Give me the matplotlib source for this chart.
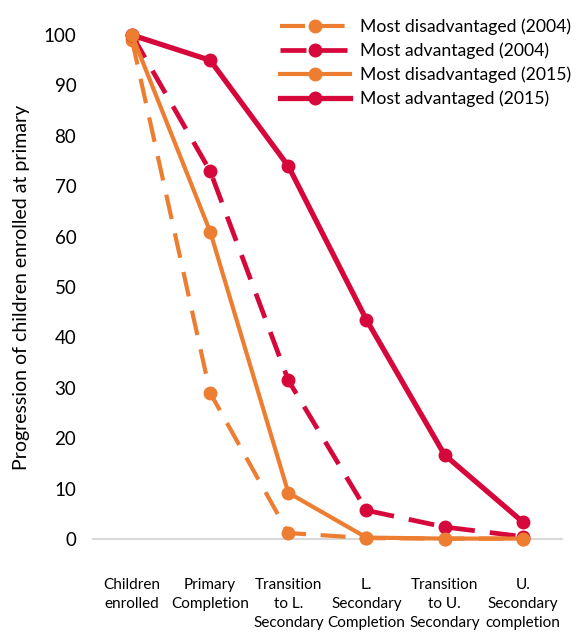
import matplotlib
matplotlib.use("Agg")
import matplotlib.pyplot as plt

plt.rcParams['font.family'] = ['Lato', 'DejaVu Sans']

categories = ["Children\nenrolled", "Primary\nCompletion", "Transition\nto L.\nSecondary",
              "L.\nSecondary\nCompletion", "Transition\nto U.\nSecondary", "U.\nSecondary\ncompletion"]

disadv_2004 = [99, 29, 1.2, 0.2, 0.1, 0.1]
adv_2004 = [100, 73, 31.5, 5.7, 2.4, 0.5]
disadv_2015 = [100, 61, 9.2, 0.3, 0.1, 0.1]
adv_2015 = [100, 95, 74, 43.5, 16.7, 3.4]

orange = '#ED7D31'
red = '#D6083B'

fig = plt.figure(figsize=(5.81, 6.32), dpi=100)
ax = fig.add_axes([0.160, 0.147, 0.807, 0.7975])

x = range(len(categories))
ax.plot(x, disadv_2004, color=orange, lw=3, ls=(0, (6, 3.5)), marker='o', ms=9,
        label='Most disadvantaged (2004)', clip_on=False, zorder=3)
ax.plot(x, adv_2004, color=red, lw=3.4, ls=(0, (5.5, 3.2)), marker='o', ms=9,
        label='Most advantaged (2004)', clip_on=False, zorder=3)
ax.plot(x, disadv_2015, color=orange, lw=3, marker='o', ms=9,
        label='Most disadvantaged (2015)', clip_on=False, zorder=4)
ax.plot(x, adv_2015, color=red, lw=3.8, marker='o', ms=9,
        label='Most advantaged (2015)', clip_on=False, zorder=3)

ax.set_xlim(-0.5, 5.5)
ax.set_ylim(0, 100)
ax.set_yticks(range(0, 101, 10))
ax.set_xticks(list(x))
ax.set_xticklabels(categories, fontsize=11, linespacing=1.45)
ax.tick_params(axis='x', length=0, pad=28)
ax.tick_params(axis='y', length=0, labelsize=13.5, pad=12)
for s in ['top', 'right', 'left']:
    ax.spines[s].set_visible(False)
ax.spines['bottom'].set_color('#D9D9D9')
ax.spines['bottom'].set_linewidth(1.5)
ax.spines['bottom'].set_zorder(1)

ax.set_ylabel('Progression of children enrolled at primary', fontsize=14, labelpad=10)

fig.legend(loc='upper right', bbox_to_anchor=(0.995, 0.982), frameon=False,
           fontsize=12.7, handlelength=4.0, labelspacing=0.42, handletextpad=0.55,
           borderaxespad=0)

fig.savefig('out.png', dpi=100)
